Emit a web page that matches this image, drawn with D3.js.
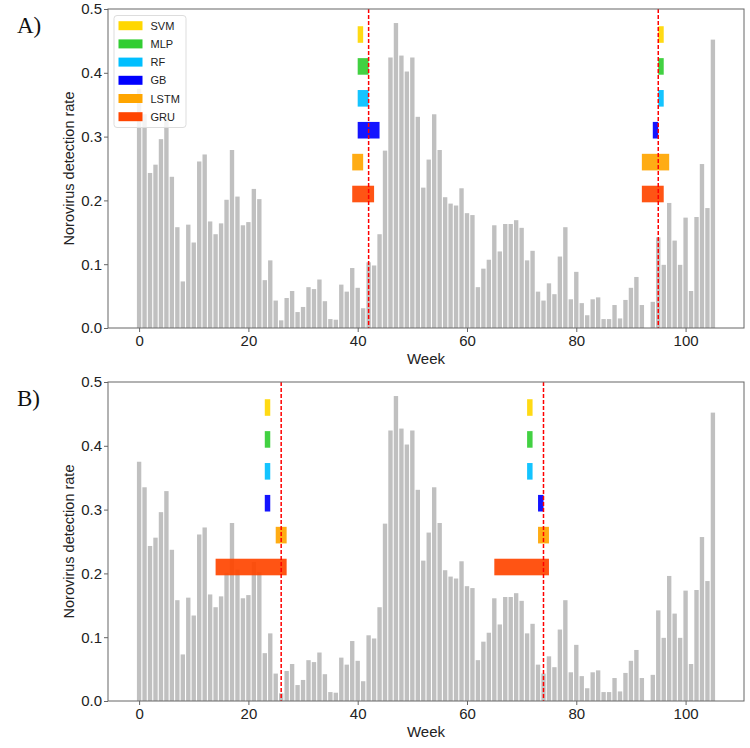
<!DOCTYPE html>
<html>
<head>
<meta charset="utf-8">
<script src="https://cdn.jsdelivr.net/npm/d3@7"></script>
<style>
  body { margin: 0; background: #fff; }
  text { font-family: "Liberation Sans", Arial, sans-serif; }
</style>
</head>
<body>
<div id="chart"></div>
<script>
// weekly norovirus detection rate, week 0..105 (week 93 has no value)
const rates = [
  0.375, 0.335, 0.243, 0.256, 0.296, 0.329, 0.237, 0.158, 0.073, 0.162,
  0.134, 0.261, 0.272, 0.167, 0.147, 0.164, 0.201, 0.279, 0.206, 0.161,
  0.166, 0.218, 0.202, 0.075, 0.106, 0.043, 0.012, 0.047, 0.058, 0.025,
  0.033, 0.064, 0.061, 0.076, 0.042, 0.014, 0.013, 0.068, 0.057, 0.094,
  0.063, 0.031, 0.103, 0.098, 0.147, 0.278, 0.424, 0.478, 0.427, 0.402,
  0.424, 0.331, 0.220, 0.264, 0.335, 0.279, 0.205, 0.195, 0.192, 0.219,
  0.180, 0.177, 0.064, 0.093, 0.107, 0.161, 0.120, 0.163, 0.163, 0.169,
  0.157, 0.106, 0.121, 0.057, 0.043, 0.070, 0.053, 0.112, 0.158, 0.045,
  0.088, 0.039, 0.020, 0.045, 0.048, 0.014, 0.014, 0.036, 0.015, 0.044,
  0.063, 0.080, 0.036, 0, 0.041, 0.142, 0.099, 0.196, 0.137, 0.099,
  0.173, 0.058, 0.174, 0.257, 0.188, 0.452
];
const weeks = rates.map((d, i) => i);

const models = ["SVM", "MLP", "RF", "GB", "LSTM", "GRU"];
const modelColors = ["#FFD700", "#32CD32", "#00BFFF", "#0000FF", "#FFA500", "#FF4500"];
const modelY = [0.46, 0.41, 0.36, 0.31, 0.26, 0.21];

// detected onset intervals [start, end] in weeks, per model
const startA1 = [40, 40, 40, 40, 39, 39];
const endA1   = [41, 42, 42, 44, 41, 43];
const startA2 = [95, 95, 95, 94, 92, 92];
const endA2   = [96, 96, 96, 95, 97, 96];
const startB1 = [23, 23, 23, 23, 25, 14];
const endB1   = [24, 24, 24, 24, 27, 27];
const startB2 = [71, 71, 71, 73, 73, 65];
const endB2   = [72, 72, 72, 74, 75, 75];

const cutA = [42, 95];
const cutB = [26, 74];

const xTicks = [0, 20, 40, 60, 80, 100];
const yTicks = [0.0, 0.1, 0.2, 0.3, 0.4, 0.5];

const W = 750, H = 748;
const svg = d3.select("#chart").append("svg")
  .attr("width", W).attr("height", H);

const left = 108, right = 744;
const x = d3.scaleLinear().domain([-5.69, 110.69]).range([left, right]);

function panel(top, bottom, label, intervals, cuts, showLegend) {
  const y = d3.scaleLinear().domain([0, 0.5]).range([bottom, top]);
  const g = svg.append("g");

  // gray weekly bars
  g.selectAll("rect.week")
    .data(weeks.filter(w => rates[w] > 0))
    .enter().append("rect")
    .attr("class", "week")
    .attr("x", w => x(w - 0.4))
    .attr("width", x(0.8) - x(0))
    .attr("y", w => y(rates[w]))
    .attr("height", w => y(0) - y(rates[w]))
    .attr("fill", "#c0c0c0");

  // model interval bars
  intervals.forEach(iv => {
    models.forEach((m, i) => {
      g.append("rect")
        .attr("x", x(iv[0][i]))
        .attr("width", x(iv[1][i]) - x(iv[0][i]))
        .attr("y", y(modelY[i] + 0.013))
        .attr("height", y(0) - y(0.026))
        .attr("fill", modelColors[i])
        .attr("fill-opacity", 0.92);
    });
  });

  // cutoff lines
  cuts.forEach(c => {
    g.append("line")
      .attr("x1", x(c)).attr("x2", x(c))
      .attr("y1", top).attr("y2", bottom)
      .attr("stroke", "red")
      .attr("stroke-width", 1.5)
      .attr("stroke-dasharray", "4,2");
  });

  // frame
  g.append("rect")
    .attr("x", left).attr("y", top)
    .attr("width", right - left).attr("height", bottom - top)
    .attr("fill", "none").attr("stroke", "#666").attr("stroke-width", 1);

  const xAxis = g.append("g")
    .attr("transform", `translate(0,${bottom})`)
    .call(d3.axisBottom(x).tickValues(xTicks).tickSize(4).tickPadding(3).tickFormat(d3.format("d")));
  xAxis.select(".domain").remove();
  xAxis.selectAll("line").attr("stroke", "#666");
  xAxis.selectAll("text").attr("font-size", 15).attr("fill", "#222");

  const yAxis = g.append("g")
    .attr("transform", `translate(${left},0)`)
    .call(d3.axisLeft(y).tickValues(yTicks).tickSize(4).tickPadding(2).tickFormat(d3.format(".1f")));
  yAxis.select(".domain").remove();
  yAxis.selectAll("line").attr("stroke", "#666");
  yAxis.selectAll("text").attr("font-size", 15).attr("fill", "#222");

  g.append("text")
    .attr("x", (left + right) / 2).attr("y", bottom + 36)
    .attr("text-anchor", "middle")
    .attr("font-size", 15).attr("fill", "#222")
    .text("Week");

  g.append("text")
    .attr("transform", `translate(74,${(top + bottom) / 2}) rotate(-90)`)
    .attr("text-anchor", "middle")
    .attr("font-size", 14.5).attr("fill", "#222")
    .text("Norovirus detection rate");

  g.append("text")
    .attr("x", 17).attr("y", top + 24)
    .attr("font-size", 23).attr("fill", "#111")
    .style("font-family", "'Liberation Serif', 'Times New Roman', serif")
    .text(label);

  if (showLegend) {
    const lg = g.append("g");
    lg.append("rect")
      .attr("x", 114).attr("y", 15.5)
      .attr("width", 72).attr("height", 112)
      .attr("rx", 3)
      .attr("fill", "#fff").attr("fill-opacity", 0.8)
      .attr("stroke", "#ddd");
    models.forEach((m, i) => {
      const cy = 25.7 + i * 18.2;
      lg.append("rect")
        .attr("x", 118.5).attr("y", cy - 4.5)
        .attr("width", 24).attr("height", 9)
        .attr("fill", modelColors[i]);
      lg.append("text")
        .attr("x", 150.5).attr("y", cy + 4)
        .attr("font-size", 11).attr("fill", "#222")
        .text(m);
    });
  }
}

panel(9, 328, "A)", [[startA1, endA1], [startA2, endA2]], cutA, true);
panel(382, 701, "B)", [[startB1, endB1], [startB2, endB2]], cutB, false);
</script>
</body>
</html>
